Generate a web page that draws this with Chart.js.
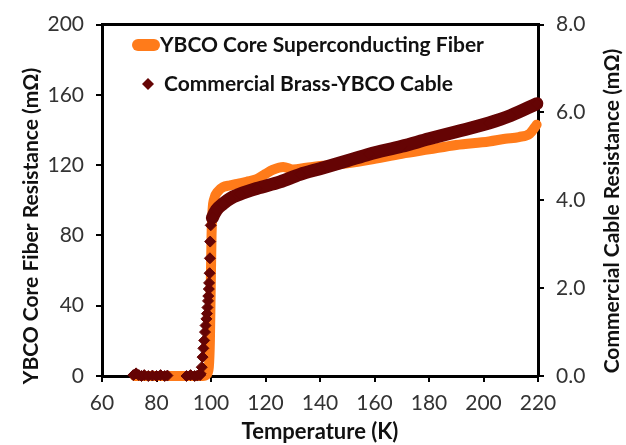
<!DOCTYPE html>
<html>
<head>
<meta charset="utf-8">
<script src="https://cdn.jsdelivr.net/npm/chart.js@4.4.1/dist/chart.umd.min.js"></script>
<style>
  html, body { margin: 0; padding: 0; background: #fff; }
  #wrap { width: 626px; height: 445px; }
</style>
</head>
<body>
<div id="wrap"><canvas id="resistChart" width="626" height="445"></canvas></div>
<script>
// YBCO core fiber, left axis (mOhm)
var fiberTemp = [72, 80, 90, 97, 98.5, 99.2, 99.6, 99.9, 100.2, 100.6, 101.2, 102.5, 104.4, 107, 110, 113,
                 116.8, 120, 122.8, 126.5, 130, 135, 140, 145, 150, 158, 170, 180, 190, 202,
                 208, 213, 217, 219.5];
var fiberRes = [0, 0, 0, 0, 1, 5, 20, 50, 80, 95, 101, 105, 107.5, 108.5, 109.5, 110.5,
                112, 115, 117.4, 119, 117.5, 118.5, 119.5, 120, 121, 123, 126.5, 129, 131.5, 133.5,
                135, 136, 138, 143];

// commercial brass-YBCO cable, right axis (mOhm)
var cableTemp = [71.5, 72.5, 73.5, 74.5, 75.5, 77, 78.5, 80, 81.5, 83, 84,
                 91, 92.5, 94, 95, 96,
                 96.2, 96.6, 96.9, 97.2, 97.5, 97.8, 98.0, 98.3, 98.5, 98.7, 98.9, 99.0, 99.2, 99.3, 99.5, 99.6, 99.7, 99.9,
                 100.5, 102, 104.4, 107, 110.6, 116.8, 125.3, 132.7, 140, 150, 158, 170, 180, 190, 202, 210, 219.6];
var cableRes = [0.02, 0.06, 0.02, 0.0, 0.02, 0.0, 0.01, 0.0, 0.02, 0.0, 0.01,
                0.0, 0.02, 0.0, 0.01, 0.02,
                0.05, 0.2, 0.43, 0.63, 0.81, 1.0, 1.15, 1.3, 1.42, 1.56, 1.71, 1.82, 1.98, 2.12, 2.34, 2.68, 3.06, 3.43,
                3.6, 3.78, 3.92, 4.04, 4.14, 4.27, 4.42, 4.59, 4.72, 4.9, 5.05, 5.23, 5.4, 5.56, 5.76, 5.93, 6.2];

var xTicks = [60, 80, 100, 120, 140, 160, 180, 200, 220];
var leftTicks = [0, 40, 80, 120, 160, 200];
var rightTicks = [0, 2, 4, 6, 8];

var fiberLabel = "YBCO Core Superconducting Fiber";
var cableLabel = "Commercial Brass-YBCO Cable";
var xTitle = "Temperature (K)";
var leftTitle = "YBCO Core Fiber Resistance (m\u03A9)";
var rightTitle = "Commercial Cable Resistance (m\u03A9)";

var orange = '#ff7b1a';
var maroon = '#650404';
var fontFam = 'Lato, "Open Sans", sans-serif';

function toPoints(xs, ys) {
    var pts = [];
    for (var i = 0; i < xs.length; i++) {
        pts.push({x: xs[i], y: ys[i]});
    }
    return pts;
}

function vertText(ctx, text, x, y) {
    ctx.save();
    ctx.translate(x, y);
    ctx.rotate(-Math.PI / 2);
    ctx.textAlign = 'center';
    ctx.textBaseline = 'middle';
    ctx.fillText(text, 0, 0);
    ctx.restore();
}

// top of the box, legend inside the plot, both y titles reading upward
var extrasPlugin = {
    id: 'extras',
    afterDraw: function (chart) {
        var ctx = chart.ctx;
        var a = chart.chartArea;
        ctx.save();
        ctx.strokeStyle = '#000';
        ctx.lineWidth = 3;
        ctx.beginPath();
        ctx.moveTo(a.left, a.top);
        ctx.lineTo(a.right, a.top);
        ctx.stroke();

        // legend
        ctx.font = 'bold 21px ' + fontFam;
        ctx.fillStyle = '#111';
        ctx.textBaseline = 'middle';
        ctx.fillText(fiberLabel, 160, 45);
        ctx.fillText(cableLabel, 164, 84);
        ctx.fillStyle = orange;
        ctx.beginPath();
        ctx.roundRect(132, 39, 28, 12, 6);
        ctx.fill();
        ctx.fillStyle = maroon;
        ctx.beginPath();
        ctx.moveTo(148, 78);
        ctx.lineTo(154, 84);
        ctx.lineTo(148, 90);
        ctx.lineTo(142, 84);
        ctx.closePath();
        ctx.fill();

        // axis titles
        ctx.font = 'bold 21px ' + fontFam;
        ctx.fillStyle = '#111';
        vertText(ctx, leftTitle, 31, 226);
        vertText(ctx, rightTitle, 612, 211);
        ctx.restore();
    }
};

function makeChart() {
    var canvas = document.getElementById("resistChart");

    var dataFiber = {
        label: fiberLabel,
        data: toPoints(fiberTemp, fiberRes),
        yAxisID: 'y',
        showLine: true,
        borderColor: orange,
        backgroundColor: orange,
        borderWidth: 10,
        borderCapStyle: 'round',
        borderJoinStyle: 'round',
        pointRadius: 0,
        cubicInterpolationMode: 'monotone',
        order: 1,
        clip: 8
    };

    var dataCable = {
        label: cableLabel,
        data: toPoints(cableTemp, cableRes),
        yAxisID: 'y2',
        showLine: true,
        borderColor: maroon,
        backgroundColor: maroon,
        borderWidth: 13,
        borderCapStyle: 'round',
        pointStyle: 'rectRot',
        pointRadius: 5.5,
        pointBorderWidth: 1,
        pointBorderColor: maroon,
        cubicInterpolationMode: 'monotone',
        segment: {
            borderColor: function (c) {
                return c.p0.parsed.x < 100 ? 'rgba(0,0,0,0)' : maroon;
            }
        },
        order: 0,
        clip: 8
    };

    var tickFont = {family: fontFam, size: 21};
    var titleFont = {family: fontFam, size: 22, weight: 'bold'};

    new Chart(canvas, {
        type: 'scatter',
        data: {datasets: [dataFiber, dataCable]},
        options: {
            responsive: false,
            animation: false,
            layout: {padding: {top: 20, left: 0, right: 0, bottom: 0}},
            plugins: {
                legend: {display: false},
                tooltip: {enabled: false}
            },
            scales: {
                x: {
                    type: 'linear',
                    min: 60,
                    max: 220,
                    afterBuildTicks: function (s) { s.ticks = xTicks.map(function (v) { return {value: v}; }); },
                    afterFit: function (s) { s.height = 69; },
                    border: {color: '#000', width: 3},
                    grid: {drawOnChartArea: false, color: '#000', lineWidth: 2, tickLength: 6},
                    ticks: {font: tickFont, color: '#333', padding: 9, maxRotation: 0},
                    title: {display: true, text: xTitle, font: titleFont, color: '#111', padding: {top: 0, bottom: 0}}
                },
                y: {
                    type: 'linear',
                    position: 'left',
                    min: 0,
                    max: 200,
                    afterBuildTicks: function (s) { s.ticks = leftTicks.map(function (v) { return {value: v}; }); },
                    afterFit: function (s) { s.width = 102; },
                    border: {color: '#000', width: 3},
                    grid: {drawOnChartArea: false, color: '#000', lineWidth: 2, tickLength: 6},
                    ticks: {font: tickFont, color: '#333', padding: 12}
                },
                y2: {
                    type: 'linear',
                    position: 'right',
                    min: 0,
                    max: 8,
                    afterBuildTicks: function (s) { s.ticks = rightTicks.map(function (v) { return {value: v}; }); },
                    afterFit: function (s) { s.width = 88; },
                    border: {color: '#000', width: 3},
                    grid: {drawOnChartArea: false, color: '#000', lineWidth: 2, tickLength: 6},
                    ticks: {
                        font: tickFont,
                        color: '#333',
                        padding: 12,
                        callback: function (v) { return v.toFixed(1); }
                    }
                }
            }
        },
        plugins: [extrasPlugin]
    });
}

document.addEventListener('DOMContentLoaded', makeChart);
</script>
</body>
</html>
